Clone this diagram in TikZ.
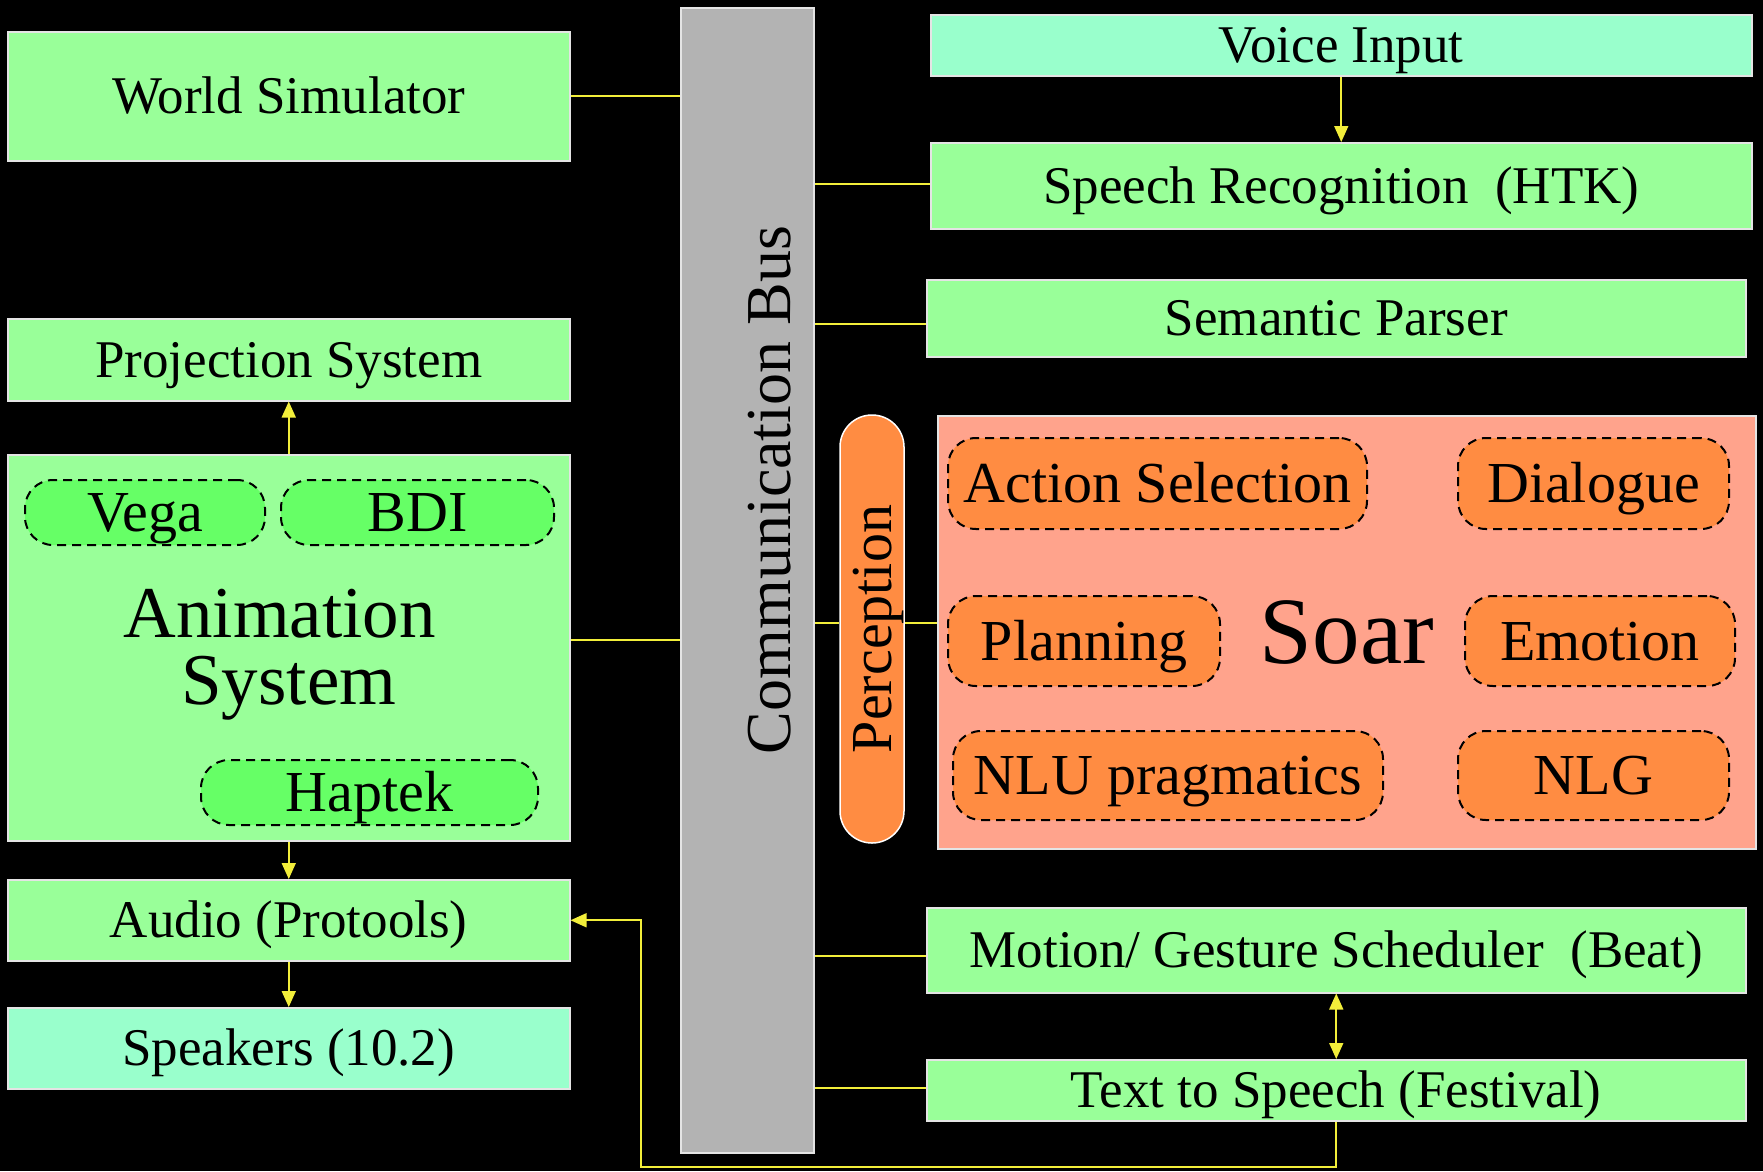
\documentclass[tikz,border=0pt]{standalone}
\usepackage{fontspec}
\setmainfont{Liberation Serif}
\usetikzlibrary{arrows.meta}
\definecolor{boxgreen}{HTML}{99FF99}
\definecolor{boxmint}{HTML}{99FFCC}
\definecolor{subgreen}{HTML}{66FF66}
\definecolor{soarbg}{HTML}{FFA38C}
\definecolor{orangefill}{HTML}{FF8C42}
\definecolor{busgray}{HTML}{B3B3B3}
\definecolor{wire}{HTML}{F2EE3A}
\definecolor{rim}{HTML}{E4E4E4}

\begin{document}
\begin{tikzpicture}[x=1pt,y=-1pt,
  blk/.style={draw=rim, line width=1.5pt, inner sep=0pt, anchor=north west,
    font=\fontsize{53}{53}\selectfont, text height=35pt, text depth=0pt},
  greenblk/.style={blk, fill=boxgreen},
  mintblk/.style={blk, fill=boxmint},
  sub/.style={draw=black, dashed, dash pattern=on 9pt off 6pt, line width=2pt,
    rounded corners=28pt, inner sep=0pt, anchor=north west,
    font=\fontsize{58}{58}\selectfont, text height=38pt, text depth=0pt},
  subg/.style={sub, fill=subgreen},
  subo/.style={sub, fill=orangefill},
  conn/.style={draw=wire, line width=1.6pt},
  arr/.style={conn, -{Triangle[length=16pt,width=14pt]}},
  arrboth/.style={conn, {Triangle[length=16pt,width=14pt]}-{Triangle[length=16pt,width=14pt]}}
]
\useasboundingbox (0,0) rectangle (1763,1171);
\fill[black] (0,0) rectangle (1763,1171);

% communication bus
\node[blk, fill=busgray, minimum width=133pt, minimum height=1145pt] (bus) at (680,7) {};
\node[rotate=90, anchor=base, font=\fontsize{64}{64}\selectfont] (buslabel) at (790,490) {Communication Bus};

% left column
\node[greenblk, minimum width=562pt, minimum height=129pt] (ws) at (7,31) {World Simulator};
\node[greenblk, minimum width=562pt, minimum height=82pt] (proj) at (7,318) {Projection System};
\node[greenblk, minimum width=562pt, minimum height=386pt, align=center,
  font=\fontsize{73}{67}\selectfont, text height=, text depth=] (anim) at (7,454)
  {\rule{0pt}{62pt}Animation\hspace*{18pt}\\System};
\node[subg, minimum width=240pt, minimum height=65pt] (vega) at (24,479) {Vega};
\node[subg, minimum width=273pt, minimum height=65pt] (bdi) at (280,479) {BDI};
\node[subg, minimum width=337pt, minimum height=65pt] (haptek) at (200,759) {Haptek};
\node[greenblk, minimum width=562pt, minimum height=81pt] (audio) at (7,879) {Audio (Protools)};
\node[mintblk, minimum width=562pt, minimum height=81pt] (spk) at (7,1007) {Speakers (10.2)};

% right column
\node[mintblk, minimum width=821pt, minimum height=61pt] (voice) at (930,14) {Voice Input};
\node[greenblk, minimum width=821pt, minimum height=86pt] (speech) at (930,142) {Speech Recognition~~(HTK)};
\node[greenblk, minimum width=819pt, minimum height=77pt] (sem) at (926,279) {Semantic Parser};
\node[greenblk, minimum width=819pt, minimum height=85pt] (motion) at (926,907) {Motion/ Gesture Scheduler~~(Beat)};
\node[greenblk, minimum width=819pt, minimum height=61pt] (tts) at (926,1059) {Text to Speech (Festival)};

% perception and Soar
\node[draw=white, line width=1.5pt, fill=orangefill, rotate=90, rounded corners=32pt,
  minimum width=428pt, minimum height=64pt, inner sep=0pt,
  font=\fontsize{58}{58}\selectfont, text height=38pt, text depth=0pt] (perc) at (872,629) {Perception};
\node[blk, fill=soarbg, minimum width=818pt, minimum height=433pt,
  font=\fontsize{95}{95}\selectfont, text height=63pt] (soar) at (937,415) {Soar};
\node[subo, minimum width=419pt, minimum height=91pt] (action) at (947,437) {Action Selection};
\node[subo, minimum width=271pt, minimum height=91pt] (dialogue) at (1457,437) {Dialogue};
\node[subo, minimum width=272pt, minimum height=90pt] (planning) at (947,595) {Planning};
\node[subo, minimum width=270pt, minimum height=90pt] (emotion) at (1464,595) {Emotion};
\node[subo, minimum width=430pt, minimum height=89pt] (nlu) at (952,730) {NLU pragmatics};
\node[subo, minimum width=271pt, minimum height=89pt] (nlg) at (1457,730) {NLG};

% bus connections
\draw[conn] (ws.east) -- (ws.east -| bus.west);
\draw[conn] ([yshift=8pt]anim.east) -- ([yshift=8pt]anim.east -| bus.west);
\draw[conn] ([yshift=2pt]speech.west) -- ([yshift=2pt]speech.west -| bus.east);
\draw[conn] ([yshift=-5.5pt]sem.west) -- ([yshift=-5.5pt]sem.west -| bus.east);
\draw[conn] ([yshift=6pt]perc.north) -- ([yshift=6pt]perc.north -| bus.east);
\draw[conn] ([yshift=6pt]perc.south) -- ([yshift=6pt]perc.south -| soar.west);
\draw[conn] ([yshift=-5.5pt]motion.west) -- ([yshift=-5.5pt]motion.west -| bus.east);
\draw[conn] ([yshift=2.5pt]tts.west) -- ([yshift=2.5pt]tts.west -| bus.east);

% data flow arrows
\draw[arr] (voice.south) -- (speech.north);
\draw[arr] (anim.north) -- (proj.south);
\draw[arr] (anim.south) -- (audio.north);
\draw[arr] (audio.south) -- (spk.north);
\draw[arrboth] (motion.south) -- (tts.north);
\coordinate (fb) at (641,1167);
\draw[arr] (tts.south) |- (fb) |- (audio.east);
\end{tikzpicture}
\end{document}
